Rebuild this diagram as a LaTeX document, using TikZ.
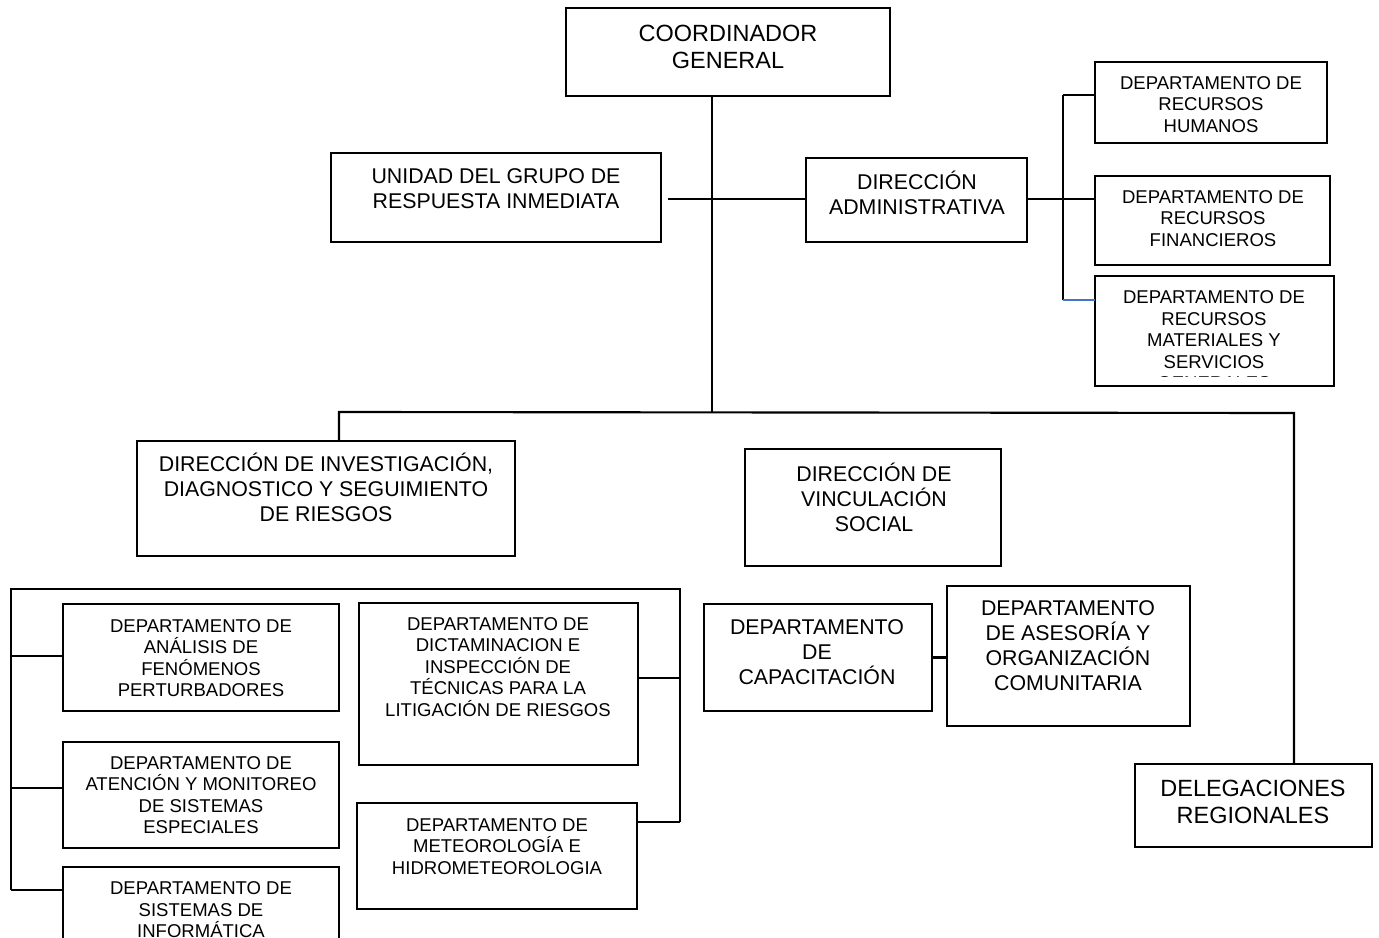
\documentclass[tikz,border=0pt]{standalone}
\usepackage{fontspec}
\setmainfont{Liberation Sans}
\definecolor{azulw}{RGB}{68,114,196}
\newcommand{\px}{0.75pt}
% caja vacia: nombre, x1, y1, x2, y2 (en pixeles)
\newcommand{\caja}[6][]{%
  \node [cuadro, #1, minimum width={(#5-#3)*\px}, minimum height={(#6-#4)*\px}] (#2) at ({(#3+#5)/2},{(#4+#6)/2}) {};}
\begin{document}
\begin{tikzpicture}[x=0.75pt, y=-0.75pt,
    cuadro/.style={draw, line width=1.8pt, inner sep=0pt, outer sep=0pt},
    linea/.style={line width=1.6pt},
    txtG/.style={align=center, inner sep=0pt, font=\fontsize{17.6}{20.25}\selectfont},
    txtM/.style={align=center, inner sep=0pt, font=\fontsize{16}{18.75}\selectfont},
    txtC/.style={align=center, inner sep=0pt, font=\fontsize{13.9}{16.1}\selectfont}]
    \clip (0,0) rectangle (1379,938);
    % nivel superior
    \caja{cg}{566}{8}{890}{96}
    \node [txtG] (cgT) at (728,46.5) {COORDINADOR\\GENERAL};
    \caja{unidad}{331}{153}{661}{242}
    \node [txtM] (unidadT) at (496,188.5) {UNIDAD DEL GRUPO DE\\RESPUESTA INMEDIATA};
    \caja{dadm}{806}{158}{1027}{242}
    \node [txtM] (dadmT) at (917,192.5) {DIRECCIÓN\\ADMINISTRATIVA};
    % departamentos administrativos
    \caja{rh}{1095}{62}{1327}{143}
    \node [txtC] (rhT) at (1211,104.5) {DEPARTAMENTO DE\\RECURSOS\\HUMANOS};
    \caja{rf}{1095}{176}{1330}{265}
    \node [txtC] (rfT) at (1213,218.5) {DEPARTAMENTO DE\\RECURSOS\\FINANCIEROS};
    \caja{rm}{1095}{276}{1334}{386}
    \begin{scope}
        \clip (1095,276) rectangle (1334,376);
        \node [txtC] (rmT) at (1214,340.5) {DEPARTAMENTO DE\\RECURSOS\\MATERIALES Y\\SERVICIOS\\GENERALES};
    \end{scope}
    % direcciones
    \caja{dinv}{137}{441}{515}{556}
    \node [txtM] (dinvT) at (326,487.5) {DIRECCIÓN DE INVESTIGACIÓN,\\DIAGNOSTICO Y SEGUIMIENTO\\DE RIESGOS};
    \caja{dvinc}{745}{449}{1001}{566}
    \node [txtM] (dvincT) at (874,497) {DIRECCIÓN DE\\VINCULACIÓN\\SOCIAL};
    \caja[line width=1.1pt]{deleg}{1135}{764}{1372}{847}
    \node [txtG] (delegT) at (1253,801.5) {DELEGACIONES\\REGIONALES};
    % departamentos de investigacion
    \caja{anal}{63}{604}{339}{711}
    \node [txtC] (analT) at (201,658) {DEPARTAMENTO DE\\ANÁLISIS DE\\FENÓMENOS\\PERTURBADORES};
    \caja{aten}{63}{742}{339}{848}
    \node [txtC] (atenT) at (201,795) {DEPARTAMENTO DE\\ATENCIÓN Y MONITOREO\\DE SISTEMAS\\ESPECIALES};
    \caja{sist}{63}{867}{339}{975}
    \node [txtC] (sistT) at (201,910) {DEPARTAMENTO DE\\SISTEMAS DE\\INFORMÁTICA};
    \caja{dict}{359}{603}{638}{765}
    \node [txtC] (dictT) at (498,667) {DEPARTAMENTO DE\\DICTAMINACION E\\INSPECCIÓN DE\\TÉCNICAS PARA LA\\LITIGACIÓN DE RIESGOS};
    \caja{meteo}{357}{803}{637}{909}
    \node [txtC] (meteoT) at (497,846.5) {DEPARTAMENTO DE\\METEOROLOGÍA E\\HIDROMETEOROLOGIA};
    % departamentos de vinculacion
    \caja{cap}{704}{604}{932}{711}
    \node [txtM] (capT) at (817,652.5) {DEPARTAMENTO\\DE\\CAPACITACIÓN};
    \caja{ases}{947}{586}{1190}{726}
    \node [txtM] (asesT) at (1068,646) {DEPARTAMENTO\\DE ASESORÍA Y\\ORGANIZACIÓN\\COMUNITARIA};
    % puntos de union
    \coordinate (tronco) at (712,412);
    \coordinate (ugri) at (668,199);
    \coordinate (rtop) at (1063,95);
    \coordinate (rbot) at (1063,300);
    \coordinate (bl) at (339,412);
    \coordinate (br) at (1294,413);
    \coordinate (g1) at (11,589);
    \coordinate (g2) at (680,589);
    \coordinate (e1) at (11,656);
    \coordinate (e2) at (11,788);
    \coordinate (e3) at (11,890);
    \coordinate (e4) at (680,678);
    \coordinate (e5) at (680,822);
    % lineas
    \draw [linea] (cg.south -| tronco) -- (tronco);
    \draw [linea] (ugri) -- (ugri -| dadm.west);
    \draw [linea] (dadm.east |- ugri) -- (ugri -| rf.west);
    \draw [linea] (rtop) -- (rbot);
    \draw [linea] (rtop) -- (rtop -| rh.west);
    \draw [line width=1.3pt, azulw] (rbot) -- (rbot -| rm.west);
    \draw [linea] (bl |- dinv.north) -- (bl) -- (br) -- (br |- deleg.north);
    \draw [linea] (e3) -- (g1) -- (g2) -- (e5);
    \draw [linea] (e1) -- (e1 -| anal.west);
    \draw [linea] (e2) -- (e2 -| aten.west);
    \draw [linea] (e3) -- (e3 -| sist.west);
    \draw [linea] (e4) -- (e4 -| dict.east);
    \draw [linea] (e5) -- (e5 -| meteo.east);
    \draw [linea] (cap.east) -- (cap.east -| ases.west);
\end{tikzpicture}
\end{document}
